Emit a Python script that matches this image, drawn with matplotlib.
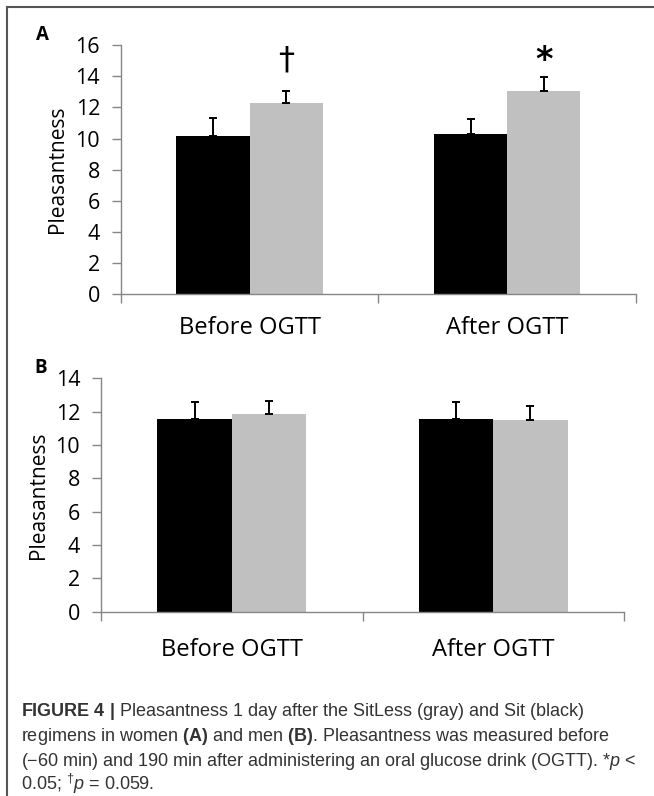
import matplotlib
matplotlib.use("Agg")
import matplotlib.pyplot as plt
from matplotlib import font_manager
from matplotlib.lines import Line2D

# values (mean, upper SE)
categories = ["Before OGTT", "After OGTT"]
a_sit = [10.17, 10.27]
a_sit_err = [1.18, 0.97]
a_sitless = [12.29, 13.08]
a_sitless_err = [0.77, 0.88]
b_sit = [11.54, 11.54]
b_sit_err = [1.04, 1.04]
b_sitless = [11.86, 11.50]
b_sitless_err = [0.76, 0.82]
a_marks = ["\u2020", "*"]   # over the SitLess bars in panel A

SIT, SITLESS, AXC = "#000000", "#c0c0c0", "#868686"
names = {f.name for f in font_manager.fontManager.ttflist}
CAP_FONT = "Liberation Sans Narrow" if "Liberation Sans Narrow" in names else "Liberation Sans"
plt.rcParams["font.family"] = ["Open Sans", "DejaVu Sans"]
plt.rcParams["mathtext.fontset"] = "custom"
plt.rcParams["mathtext.rm"] = CAP_FONT
plt.rcParams["mathtext.it"] = CAP_FONT + ":italic"
plt.rcParams["mathtext.bf"] = CAP_FONT + ":bold"

W, H = 654, 796
fig = plt.figure(figsize=(W / 100, H / 100), dpi=100)


def panel(rect, sit, sit_err, sitless, sitless_err, ymax, ystep, xpad):
    ax = fig.add_axes(rect)
    x = list(range(len(categories)))
    bw = 0.284
    xs = [i - bw / 2 for i in x]; xg = [i + bw / 2 for i in x]
    ax.bar(xs, sit, bw, color=SIT, zorder=2)
    ax.bar(xg, sitless, bw, color=SITLESS, zorder=2)
    ax.errorbar(xs, sit, yerr=[[0] * len(sit), sit_err], fmt="none", ecolor="black",
                elinewidth=1.4, capsize=2.9, capthick=1.4, zorder=3)
    ax.errorbar(xg, sitless, yerr=[[0] * len(sitless), sitless_err], fmt="none", ecolor="black",
                elinewidth=1.4, capsize=2.9, capthick=1.4, zorder=3)
    ax.set_xlim(-0.5, len(categories) - 0.5); ax.set_ylim(0, ymax)
    ax.set_yticks(range(0, ymax + 1, ystep))
    ax.set_xticks(x); ax.set_xticklabels(categories, fontsize=17)
    ax.set_xticks([i - 0.5 for i in range(len(categories) + 1)], minor=True)
    ax.tick_params(axis="x", which="major", length=0, pad=xpad)
    ax.tick_params(axis="x", which="minor", length=6.5, color=AXC, width=1)
    ax.tick_params(axis="y", length=6.5, color=AXC, width=1, labelsize=15.5, pad=8.5)
    for s in ("top", "right"):
        ax.spines[s].set_visible(False)
    for s in ("left", "bottom"):
        ax.spines[s].set_color(AXC); ax.spines[s].set_linewidth(1)
    ax.set_ylabel("Pleasantness", fontsize=15, labelpad=5)
    return ax, xg


# ---------- Panel A: women ----------
axA, xgA = panel([120.8 / W, 1 - 294 / H, 515.2 / W, 248.7 / H],
                 a_sit, a_sit_err, a_sitless, a_sitless_err, 16, 2, 16)
axA.text(xgA[0], 14.05, a_marks[0], ha="center", va="bottom", fontsize=23,
         family="DejaVu Sans")
axA.text(xgA[1], 15.0, a_marks[1], ha="center", va="center", fontsize=24,
         fontweight="bold", family="DejaVu Sans")

# ---------- Panel B: men ----------
axB, _ = panel([101 / W, 1 - 611.7 / H, 523 / W, 233.4 / H],
               b_sit, b_sit_err, b_sitless, b_sitless_err, 14, 2, 19)

fig.text(36 / W, 1 - 40 / H, "A", fontsize=13.5, fontweight="bold", va="baseline")
fig.text(34 / W, 1 - 373 / H, "B", fontsize=13.5, fontweight="bold", va="baseline")

# frame lines (left + top) around the figure
fx, fy = 7 / W, 1 - 7 / H
fig.add_artist(Line2D([fx, fx], [0, fy], color="#555555", lw=1.5))
fig.add_artist(Line2D([fx, 1], [fy, fy], color="#555555", lw=1.5))

# caption
cap = [
    r"$\mathbf{FIGURE\ 4\ |}$ Pleasantness 1 day after the SitLess (gray) and Sit (black)",
    r"regimens in women $\mathbf{(A)}$ and men $\mathbf{(B)}$. Pleasantness was measured before",
    "(\u221260 min) and 190 min after administering an oral glucose drink (OGTT). *$\\mathit{p}$ <",
    r"0.05; $^{\dagger}\mathit{p}$ = 0.059.",
]
for i, line in enumerate(cap):
    fig.text(21 / W, 1 - (716.5 + 24.5 * i) / H, line, fontsize=13, family=CAP_FONT,
             color="#333333", va="baseline")

fig.savefig("out.png", dpi=100)
